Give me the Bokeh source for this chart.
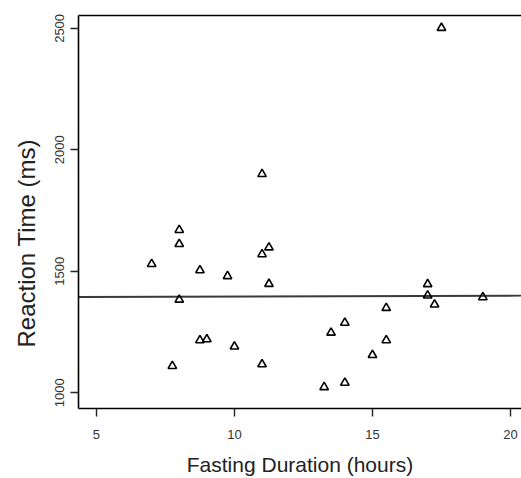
import math
from bokeh.plotting import figure
from bokeh.models import LinearAxis, FixedTicker, Title, ColumnDataSource
from bokeh.embed import file_html
from bokeh.resources import INLINE

# Data
fasting_hours = [7.0, 7.75, 8.0, 8.0, 8.0, 8.75, 8.75, 9.0, 9.75, 10.0,
                 11.0, 11.0, 11.25, 11.25, 11.0, 13.25, 13.5, 14.0, 14.0,
                 15.0, 15.5, 15.5, 17.0, 17.0, 17.25, 17.5, 19.0]
reaction_ms = [1530, 1110, 1670, 1612, 1383, 1504, 1216, 1220, 1480, 1190,
               1900, 1570, 1598, 1448, 1117, 1023, 1247, 1288, 1041,
               1155, 1349, 1216, 1447, 1400, 1363, 2502, 1393]
fit_intercept = 1392.5
fit_slope = 0.34
x_ticks = [5, 10, 15, 20]
y_ticks = [1000, 1500, 2000, 2500]
x_lo, x_hi = 4.35, 20.40
y_lo, y_hi = 935, 2553

FONT = "Liberation Sans"
W, H = 521, 478
BL, BR, BT, BB = 78, 0, 15, 66

p = figure(width=W, height=H, output_backend="svg", toolbar_location=None,
           x_range=(x_lo, x_hi), y_range=(y_lo, y_hi),
           min_border_left=BL, min_border_right=BR, min_border_top=BT,
           min_border_bottom=BB)
p.grid.visible = False
p.outline_line_color = None
p.background_fill_color = "white"
p.border_fill_color = "white"

# regression line
fit_x = [x_lo, x_hi]
fit_y = [fit_intercept + fit_slope * v for v in fit_x]
p.line(fit_x, fit_y, line_color="#3a3a3a", line_width=1.8)

src = ColumnDataSource(dict(x=fasting_hours, y=reaction_ms))
p.scatter("x", "y", source=src, marker="triangle", size=8.5,
          fill_color=None, line_color="black", line_width=1.6)

for ax in (p.xaxis[0], p.yaxis[0]):
    ax.axis_line_color = "black"
    ax.axis_line_width = 1.6
    ax.major_tick_line_color = "#222222"
    ax.major_tick_line_width = 1.4
    ax.major_tick_out = 8
    ax.major_tick_in = 0
    ax.minor_tick_line_color = None
    ax.major_label_text_font = FONT
    ax.major_label_text_font_size = "13px"
    ax.major_label_text_color = "#333333"

p.xaxis.ticker = FixedTicker(ticks=x_ticks)
p.yaxis.ticker = FixedTicker(ticks=y_ticks)
p.yaxis.major_label_orientation = "vertical"
p.yaxis.major_label_standoff = 6
p.xaxis.major_label_standoff = 13

p.xaxis.axis_label = "Fasting Duration (hours)"
p.xaxis.axis_label_text_font = FONT
p.xaxis.axis_label_text_font_size = "21px"
p.xaxis.axis_label_text_font_style = "normal"
p.xaxis.axis_label_text_color = "#222222"
p.xaxis.axis_label_standoff = 11

# top frame line
top = LinearAxis(ticker=FixedTicker(ticks=[]), axis_line_color="black",
                 axis_line_width=1.6, major_tick_line_color=None,
                 minor_tick_line_color=None, major_label_text_font_size="0px",
                 major_tick_out=0, major_tick_in=0, major_label_standoff=0)
p.add_layout(top, "above")

# y-axis title in the left panel, shifted up from the frame bottom
ytitle = Title(text="Reaction Time (ms)", align="left", offset=61,
               vertical_align="top",
               text_font=FONT, text_font_size="24px",
               text_font_style="normal", text_color="#222222", standoff=22)
p.add_layout(ytitle, "left")

open("out.html", "w").write(file_html(p, INLINE))
